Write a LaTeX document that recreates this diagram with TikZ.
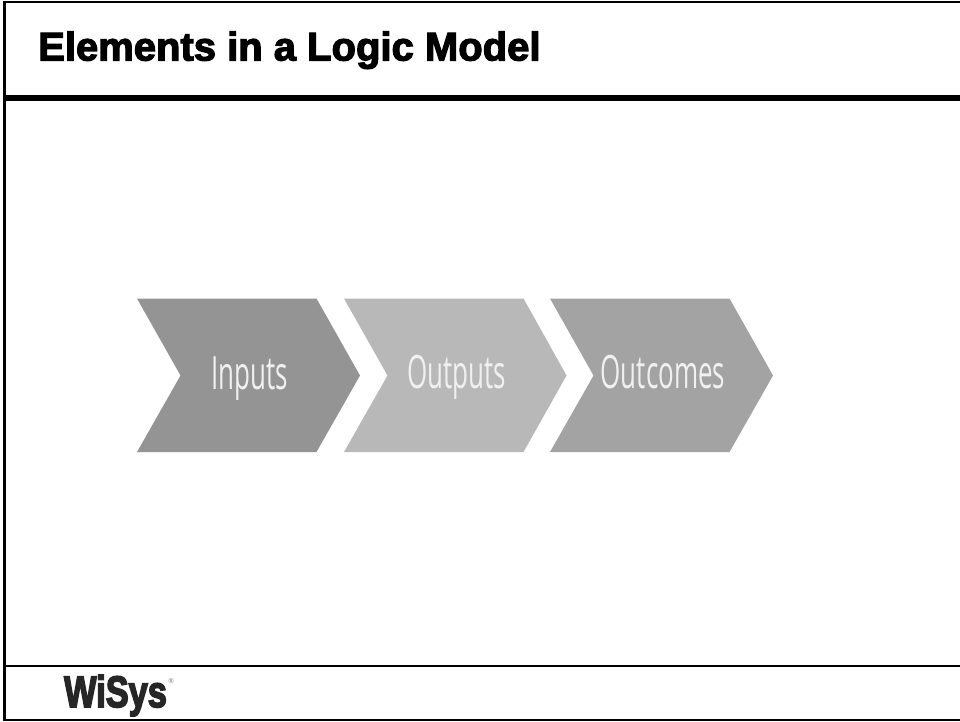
\documentclass[tikz,border=0pt]{standalone}
\usepackage{fontspec}
\setmainfont{Liberation Sans}
\newfontfamily\titlefont[FakeBold=3]{Liberation Sans Bold}
\newfontfamily\logofont[FakeBold=4]{Liberation Sans Bold}
\newfontfamily\chevfont{Open Sans}
\tikzset{
  rule/.style={draw=black,line cap=butt},
  chevlabel/.style={text=white!94!black,font=\chevfont\fontsize{46}{46}\selectfont,xscale=0.565,inner sep=0,anchor=base}
}
\begin{document}
\begin{tikzpicture}[x=1pt,y=-1pt]
\useasboundingbox (0,0) rectangle (960,721);
\fill[white] (0,0) rectangle (960,721);
% frame
\draw[rule,line width=2.2pt] (4.5,720.5) -- (4.5,1);
\draw[rule,line width=2.2pt] (3.4,2) -- (960,2);
\draw[rule,line width=2pt] (3.4,719.5) -- (960,719.5);
\draw[rule,line width=5.5pt] (4.5,98) -- (960,98);
\draw[rule,line width=1.3pt] (4.5,666) -- (960,666);
% title
\node[inner sep=0,anchor=base west,font=\titlefont\fontsize{40}{40}\selectfont] (title) at (38,60.5) {Elements in a Logic Model};
% chevrons
\fill[fill=black!42] (137,298.5) -- (316.5,298.5) -- (360,375.5) -- (316.5,452) -- (137,452) -- (180.5,375.5) -- cycle;
\fill[fill=black!28] (344,298.5) -- (523.5,298.5) -- (566.5,375.5) -- (523.5,452) -- (344,452) -- (387.5,375.5) -- cycle;
\fill[fill=black!36] (550,298.5) -- (729.5,298.5) -- (773,375.5) -- (729.5,452) -- (550,452) -- (593.5,375.5) -- cycle;
\node[chevlabel] (inputs) at (250,389) {Inputs};
\node[chevlabel] (outputs) at (456.5,388) {Outputs};
\node[chevlabel] (outcomes) at (663,388) {Outcomes};
% logo
\node[inner sep=0,anchor=base west,xscale=0.78,font=\logofont\fontsize{44}{44}\selectfont,text=black!85] (logo) at (64,707) {WiSys};
\node[inner sep=0,anchor=west,font=\fontsize{7}{7}\selectfont,text=black!55] (reg) at (168.5,681) {®};
\end{tikzpicture}
\end{document}
